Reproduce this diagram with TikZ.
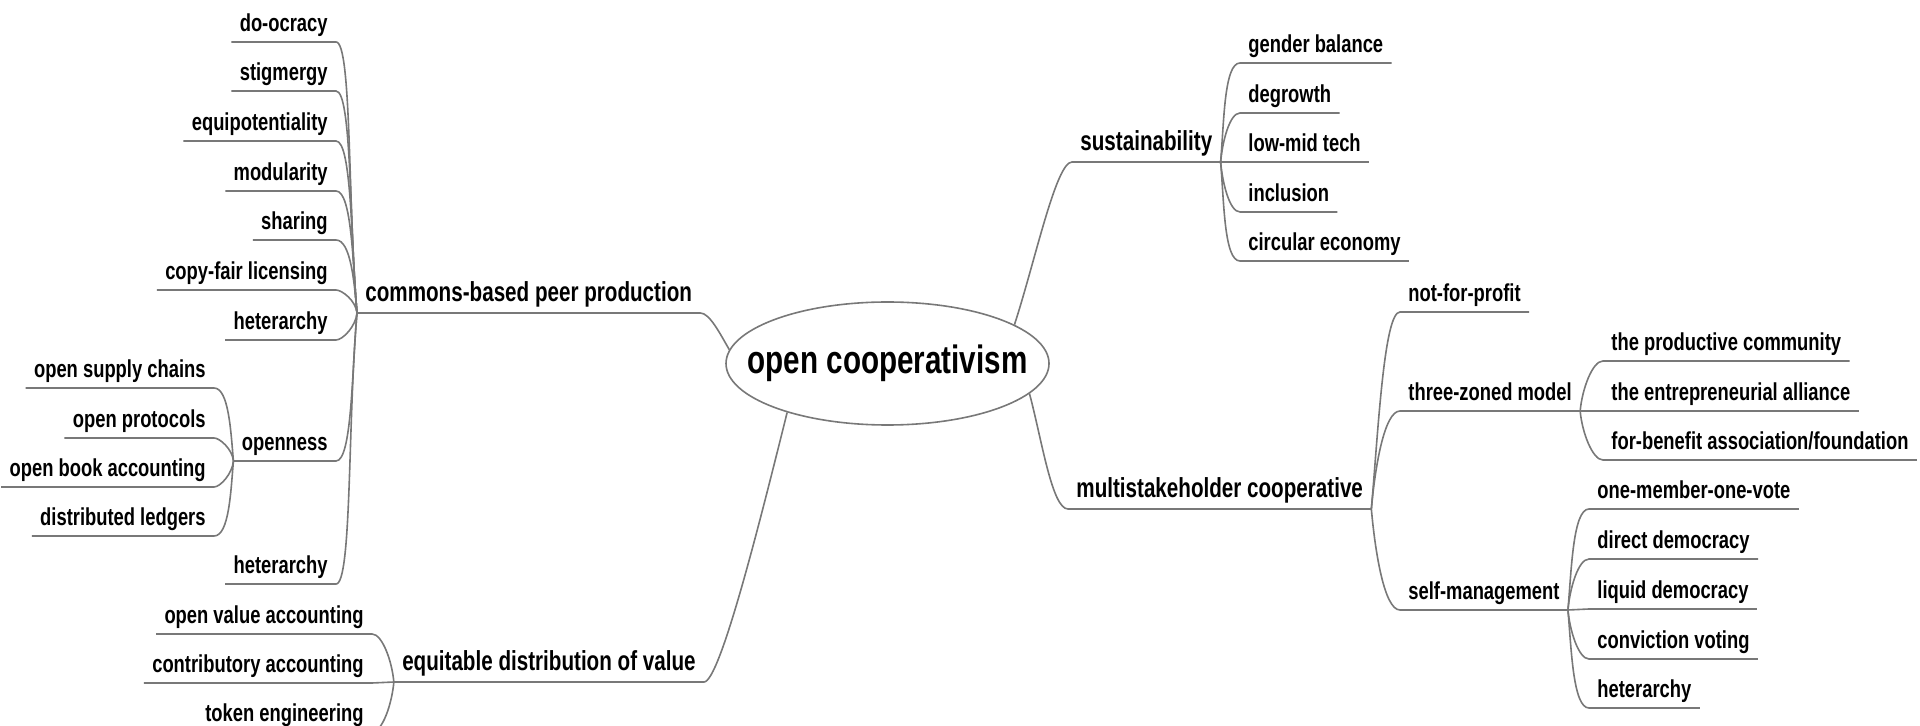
\documentclass[tikz,border=0pt]{standalone}
\usepackage{fontspec}
\setmainfont[FakeStretch=0.75]{Liberation Sans Bold}
\usetikzlibrary{shapes.geometric}
\definecolor{branchgray}{RGB}{120,120,120}
\tikzset{
  branch/.style={draw=branchgray, line width=0.8pt},
  subtopic/.style={font=\fontsize{12.25}{14}\selectfont, inner xsep=4pt, inner ysep=5pt, text depth=0pt},
  maintopic/.style={font=\fontsize{13.75}{16}\selectfont, inner xsep=4pt, inner ysep=5.5pt, text depth=0pt},
  upleft/.style={out=95, in=0, out looseness=1, in looseness=0.5, in max distance=8pt},
  downleft/.style={out=265, in=0, out looseness=1, in looseness=0.5, in max distance=8pt},
  upright/.style={out=85, in=180, out looseness=1, in looseness=0.5, in max distance=8pt},
  downright/.style={out=275, in=180, out looseness=1, in looseness=0.5, in max distance=8pt}
}
\begin{document}
\begin{tikzpicture}[x=0.5pt, y=0.5pt]
  \useasboundingbox (0,0) rectangle (1920,-726);
  \clip (0,0) rectangle (1920,-726);
  \node[ellipse, draw=branchgray, line width=0.8pt, fill=white, inner sep=0pt, minimum width=161.5pt, minimum height=61.5pt, font=\fontsize{19.75}{24}\selectfont] (coop) at (887.5,-363.5) {\makebox[0pt]{open cooperativism}};

  \node[maintopic, anchor=south west] (commons) at (357,-313) {commons-based peer production};
  \node[subtopic, anchor=south east] (doocracy) at (336,-42) {do-ocracy};
  \node[subtopic, anchor=south east] (stigmergy) at (336,-91) {stigmergy};
  \node[subtopic, anchor=south east] (equipot) at (336,-141) {equipotentiality};
  \node[subtopic, anchor=south east] (modularity) at (336,-191) {modularity};
  \node[subtopic, anchor=south east] (sharing) at (336,-240) {sharing};
  \node[subtopic, anchor=south east] (copyfair) at (336,-290) {copy-fair licensing};
  \node[subtopic, anchor=south east] (heterarchyA) at (336,-340) {heterarchy};
  \node[subtopic, anchor=south east] (openness) at (336,-461) {openness};
  \node[subtopic, anchor=south east] (heterarchyB) at (336,-584) {heterarchy};
  \node[subtopic, anchor=south east] (supply) at (214,-388) {open supply chains};
  \node[subtopic, anchor=south east] (protocols) at (214,-438) {open protocols};
  \node[subtopic, anchor=south east] (bookacc) at (214,-487) {open book accounting};
  \node[subtopic, anchor=south east] (ledgers) at (214,-536) {distributed ledgers};

  \node[maintopic, anchor=south east] (equitable) at (704,-682) {equitable distribution of value};
  \node[subtopic, anchor=south east] (valueacc) at (372,-634) {open value accounting};
  \node[subtopic, anchor=south east] (contribacc) at (372,-683) {contributory accounting};
  \node[subtopic, anchor=south east] (tokeneng) at (372,-732) {token engineering};

  \node[maintopic, anchor=south west] (sustain) at (1072,-162) {sustainability};
  \node[subtopic, anchor=south west] (gender) at (1240,-63) {gender balance};
  \node[subtopic, anchor=south west] (degrowth) at (1240,-113) {degrowth};
  \node[subtopic, anchor=south west] (lowmid) at (1240,-162) {low-mid tech};
  \node[subtopic, anchor=south west] (inclusion) at (1240,-212) {inclusion};
  \node[subtopic, anchor=south west] (circular) at (1240,-261) {circular economy};

  \node[maintopic, anchor=south west] (multi) at (1068,-509) {multistakeholder cooperative};
  \node[subtopic, anchor=south west] (notprofit) at (1400,-312) {not-for-profit};
  \node[subtopic, anchor=south west] (threezone) at (1400,-411) {three-zoned model};
  \node[subtopic, anchor=south west] (selfmgmt) at (1400,-610) {self-management};
  \node[subtopic, anchor=south west] (prodcomm) at (1603,-361) {the productive community};
  \node[subtopic, anchor=south west] (entrepr) at (1603,-411) {the entrepreneurial alliance};
  \node[subtopic, anchor=south west] (forbenefit) at (1603,-460) {for-benefit association/foundation};
  \node[subtopic, anchor=south west] (onevote) at (1589,-509) {one-member-one-vote};
  \node[subtopic, anchor=south west] (directdem) at (1589,-559) {direct democracy};
  \node[subtopic, anchor=south west] (liquiddem) at (1589,-609) {liquid democracy};
  \node[subtopic, anchor=south west] (conviction) at (1589,-659) {conviction voting};
  \node[subtopic, anchor=south west] (heterarchyC) at (1589,-708) {heterarchy};

  \draw[branch] (coop.175) to[out=120, in=0, out looseness=1, in looseness=0.5, in max distance=8pt] (commons.south east) -- (commons.south west);
  \draw[branch] (coop.206) to[out=256, in=0, out looseness=1, in looseness=0.5, in max distance=8pt] (equitable.south east) -- (equitable.south west);
  \draw[branch] (coop.17) to[out=72, in=180, out looseness=1, in looseness=0.5, in max distance=8pt] (sustain.south west) -- (sustain.south east);
  \draw[branch] (coop.348) to[out=285, in=180, out looseness=1, in looseness=0.5, in max distance=8pt] (multi.south west) -- (multi.south east);

  \draw[branch] (commons.south west) to[upleft] (doocracy.south east) -- (doocracy.south west);
  \draw[branch] (commons.south west) to[upleft] (stigmergy.south east) -- (stigmergy.south west);
  \draw[branch] (commons.south west) to[upleft] (equipot.south east) -- (equipot.south west);
  \draw[branch] (commons.south west) to[upleft] (modularity.south east) -- (modularity.south west);
  \draw[branch] (commons.south west) to[upleft] (sharing.south east) -- (sharing.south west);
  \draw[branch] (commons.south west) to[upleft] (copyfair.south east) -- (copyfair.south west);
  \draw[branch] (commons.south west) to[downleft] (heterarchyA.south east) -- (heterarchyA.south west);
  \draw[branch] (commons.south west) to[downleft] (openness.south east) -- (openness.south west);
  \draw[branch] (commons.south west) to[downleft] (heterarchyB.south east) -- (heterarchyB.south west);
  \draw[branch] (openness.south west) to[upleft] (supply.south east) -- (supply.south west);
  \draw[branch] (openness.south west) to[upleft] (protocols.south east) -- (protocols.south west);
  \draw[branch] (openness.south west) to[downleft] (bookacc.south east) -- (bookacc.south west);
  \draw[branch] (openness.south west) to[downleft] (ledgers.south east) -- (ledgers.south west);

  \draw[branch] (equitable.south west) to[upleft] (valueacc.south east) -- (valueacc.south west);
  \draw[branch] (equitable.south west) -- (contribacc.south east) -- (contribacc.south west);
  \draw[branch] (equitable.south west) to[downleft] (tokeneng.south east) -- (tokeneng.south west);

  \draw[branch] (sustain.south east) to[upright] (gender.south west) -- (gender.south east);
  \draw[branch] (sustain.south east) to[upright] (degrowth.south west) -- (degrowth.south east);
  \draw[branch] (sustain.south east) -- (lowmid.south west) -- (lowmid.south east);
  \draw[branch] (sustain.south east) to[downright] (inclusion.south west) -- (inclusion.south east);
  \draw[branch] (sustain.south east) to[downright] (circular.south west) -- (circular.south east);

  \draw[branch] (multi.south east) to[upright] (notprofit.south west) -- (notprofit.south east);
  \draw[branch] (multi.south east) to[upright] (threezone.south west) -- (threezone.south east);
  \draw[branch] (multi.south east) to[downright] (selfmgmt.south west) -- (selfmgmt.south east);
  \draw[branch] (threezone.south east) to[upright] (prodcomm.south west) -- (prodcomm.south east);
  \draw[branch] (threezone.south east) -- (entrepr.south west) -- (entrepr.south east);
  \draw[branch] (threezone.south east) to[downright] (forbenefit.south west) -- (forbenefit.south east);
  \draw[branch] (selfmgmt.south east) to[upright] (onevote.south west) -- (onevote.south east);
  \draw[branch] (selfmgmt.south east) to[upright] (directdem.south west) -- (directdem.south east);
  \draw[branch] (selfmgmt.south east) -- (liquiddem.south west) -- (liquiddem.south east);
  \draw[branch] (selfmgmt.south east) to[downright] (conviction.south west) -- (conviction.south east);
  \draw[branch] (selfmgmt.south east) to[downright] (heterarchyC.south west) -- (heterarchyC.south east);
\end{tikzpicture}
\end{document}
